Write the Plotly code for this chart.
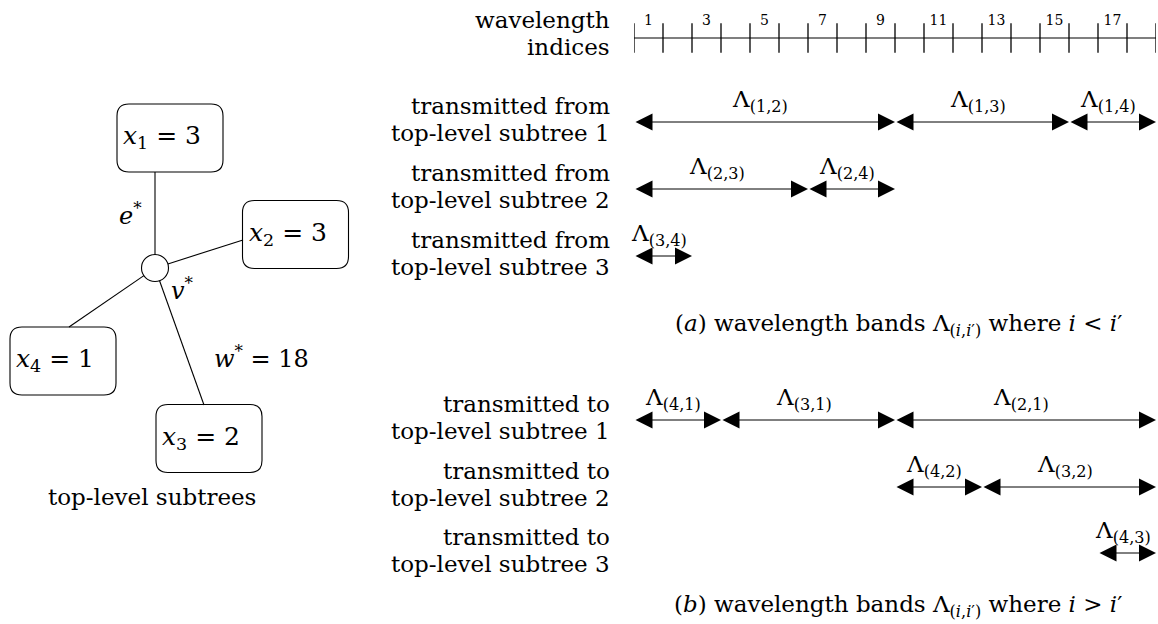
import plotly.graph_objects as go

# ---------------- data ----------------
subtree_names = ["x1", "x2", "x3", "x4"]
subtree_sizes = [3, 3, 2, 1]
edge_weight = 18
wavelength_count = 18
tick_label_values = [1, 3, 5, 7, 9, 11, 13, 15, 17]

# bands transmitted FROM subtree i (i < i')
bands_a_labels = [["(1,2)", "(1,3)", "(1,4)"], ["(2,3)", "(2,4)"], ["(3,4)"]]
bands_a_widths = [[9, 6, 3], [6, 3], [2]]
bands_a_start = [0, 0, 0]
# bands transmitted TO subtree i' (i > i')
bands_b_labels = [["(4,1)", "(3,1)", "(2,1)"], ["(4,2)", "(3,2)"], ["(4,3)"]]
bands_b_widths = [[3, 6, 9], [3, 6], [2]]
bands_b_start = [0, 9, 16]

# ---------------- layout constants ----------------
W, H = 1158, 624
FONT = "DejaVu Serif"
AX_X0, AX_X1 = 634, 1156
AXIS_Y = 38
rows_a_y = [122, 189, 256]
rows_b_y = [420, 487, 553]

fig = go.Figure()
shapes, annotations = [], []

def txt(x, y, s, size=23, xanchor="center", xref="x", yref="y"):
    annotations.append(dict(x=x, y=y, text=s, showarrow=False, xref=xref, yref=yref,
                            xanchor=xanchor, yanchor="middle",
                            font=dict(family=FONT, size=size, color="black")))

# ---------------- wavelength axis ----------------
fig.add_trace(go.Scatter(x=[0, wavelength_count], y=[AXIS_Y, AXIS_Y], mode="lines",
                         line=dict(color="black", width=1.2), xaxis="x2", yaxis="y",
                         hoverinfo="skip", showlegend=False))
fig.add_trace(go.Scatter(x=list(range(wavelength_count + 1)), y=[AXIS_Y] * (wavelength_count + 1),
                         mode="markers", marker=dict(symbol="line-ns", size=21,
                                                      line=dict(color="black", width=1.3)),
                         xaxis="x2", yaxis="y", hoverinfo="skip", showlegend=False))
fig.add_trace(go.Scatter(x=[v - 0.5 for v in tick_label_values], y=[AXIS_Y - 17] * len(tick_label_values),
                         mode="text", text=[str(v) for v in tick_label_values],
                         textfont=dict(family=FONT, size=14, color="black"),
                         xaxis="x2", yaxis="y", hoverinfo="skip", showlegend=False))
txt(612, 20, "wavelength", xanchor="right")
txt(612, 47, "indices", xanchor="right")

# ---------------- bands ----------------
def draw_rows(labels, widths, starts, ys, head):
    for r, (labs, ws, st, y) in enumerate(zip(labels, widths, starts, ys)):
        pos = st
        for lab, w in zip(labs, ws):
            a, b = pos, pos + w
            annotations.append(dict(x=b, y=y, ax=a, ay=y, xref="x2", yref="y", axref="x2", ayref="y",
                                    text="", showarrow=True, arrowhead=2, arrowside="end+start",
                                    arrowsize=3.4, arrowwidth=1, arrowcolor="black",
                                    standoff=0, startstandoff=0))
            annotations.append(dict(x=(a + b) / 2 - 0.15, y=y - 21, xref="x2", yref="y",
                                    text="Λ<sub>" + lab + "</sub>", showarrow=False,
                                    xanchor="center", yanchor="middle",
                                    font=dict(family=FONT, size=23, color="black")))
            pos = b
        txt(612, y - 16, head, xanchor="right")
        txt(612, y + 11, "top-level subtree %d" % (r + 1), xanchor="right")

draw_rows(bands_a_labels, bands_a_widths, bands_a_start, rows_a_y, "transmitted from")
draw_rows(bands_b_labels, bands_b_widths, bands_b_start, rows_b_y, "transmitted to")

txt(898, 325, "(<i>a</i>) wavelength bands Λ<sub>(<i>i</i>,<i>i</i>′)</sub> where <i>i</i> &lt; <i>i</i>′")
txt(898, 606, "(<i>b</i>) wavelength bands Λ<sub>(<i>i</i>,<i>i</i>′)</sub> where <i>i</i> &gt; <i>i</i>′")

# ---------------- tree ----------------
hub = (155, 268)
hub_r = 13.5
box_w, box_h, box_r = 106, 68, 12
box_centers = {"x1": (170, 138), "x2": (295.5, 234.5), "x3": (209, 438.5), "x4": (63, 361)}
attach = {"x1": (155, 172), "x2": (243, 240), "x3": (204, 405), "x4": (69, 327)}

def rrect(cx, cy, w, h, r):
    x0, x1, y0, y1 = cx - w / 2, cx + w / 2, cy - h / 2, cy + h / 2
    return (f"M{x0+r},{y0} L{x1-r},{y0} Q{x1},{y0} {x1},{y0+r} L{x1},{y1-r} Q{x1},{y1} {x1-r},{y1} "
            f"L{x0+r},{y1} Q{x0},{y1} {x0},{y1-r} L{x0},{y0+r} Q{x0},{y0} {x0+r},{y0} Z")

for name, val in zip(subtree_names, subtree_sizes):
    cx, cy = box_centers[name]
    shapes.append(dict(type="path", path=rrect(cx, cy, box_w, box_h, box_r), xref="x", yref="y",
                       line=dict(color="black", width=1.1), fillcolor="rgba(0,0,0,0)"))
    txt(cx - 8, cy - 1, "<i>x</i><sub>%s</sub> = %d" % (name[1], val), size=25)
    ax_, ay_ = attach[name]
    dx, dy = ax_ - hub[0], ay_ - hub[1]
    d = (dx * dx + dy * dy) ** 0.5
    sx, sy = hub[0] + hub_r * dx / d, hub[1] + hub_r * dy / d
    shapes.append(dict(type="line", x0=sx, y0=sy, x1=ax_, y1=ay_, xref="x", yref="y",
                       line=dict(color="black", width=1.1)))

shapes.append(dict(type="circle", x0=hub[0] - hub_r, x1=hub[0] + hub_r, y0=hub[1] - hub_r,
                   y1=hub[1] + hub_r, xref="x", yref="y", line=dict(color="black", width=1.1)))
txt(130, 214, "<i>e</i><sup>*</sup>", size=24)
txt(182, 289, "<i>v</i><sup>*</sup>", size=24)
txt(261, 357, "<i>w</i><sup>*</sup> = %d" % edge_weight, size=24)
txt(152, 497, "top-level subtrees", size=23)

fig.update_layout(
    width=W, height=H, margin=dict(l=0, r=0, t=0, b=0),
    paper_bgcolor="white", plot_bgcolor="rgba(0,0,0,0)", showlegend=False,
    xaxis=dict(range=[0, W], domain=[0, 1], visible=False, fixedrange=True),
    yaxis=dict(range=[H, 0], domain=[0, 1], visible=False, fixedrange=True),
    xaxis2=dict(range=[0, wavelength_count], domain=[AX_X0 / W, AX_X1 / W],
                anchor="y", visible=False, fixedrange=True),
    shapes=shapes, annotations=annotations,
)
fig.write_html("out.html", config={"displayModeBar": False},
               post_script="document.body.style.margin='0';document.body.style.overflow='hidden';")
